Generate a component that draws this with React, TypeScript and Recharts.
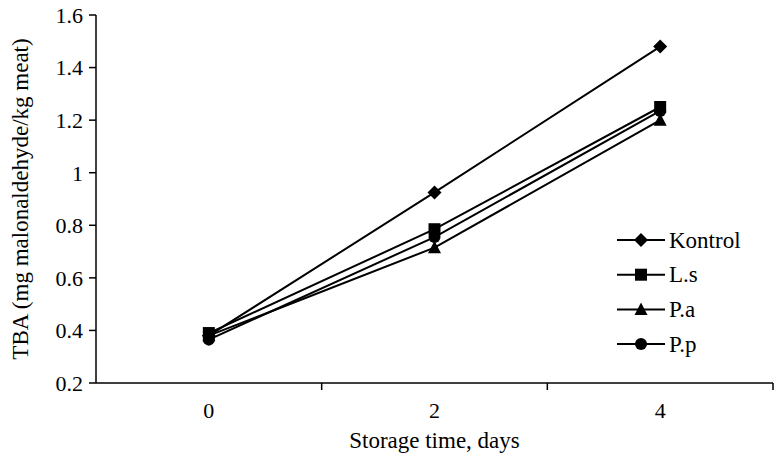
import React from "react";
import { LineChart, Line, XAxis, YAxis } from "recharts";

const days = [0, 2, 4];
const kontrol = [0.38, 0.925, 1.48];
const ls = [0.39, 0.785, 1.25];
const pa = [0.38, 0.715, 1.2];
const pp = [0.365, 0.755, 1.235];
const seriesNames = ["Kontrol", "L.s", "P.a", "P.p"];
const seriesKeys = ["kontrol", "ls", "pa", "pp"];
const seriesShapes = ["diamond", "square", "triangle", "circle"];
const yTicks = [0.2, 0.4, 0.6, 0.8, 1, 1.2, 1.4, 1.6];
const xLabelTicks = [0, 2, 4];
const xBoundaryTicks = [1, 3, 5];
const xDomain = [-1, 5];
const yTitle = "TBA (mg malonaldehyde/kg meat)";
const xTitle = "Storage time, days";

const data = days.map((d, i) => ({
  day: d,
  kontrol: kontrol[i],
  ls: ls[i],
  pa: pa[i],
  pp: pp[i],
}));

const FONT = "Liberation Serif";

function Marker({ shape, cx, cy }: { shape: string; cx: number; cy: number }) {
  if (shape === "diamond") {
    const h = 7;
    return <polygon points={`${cx},${cy - h} ${cx + h},${cy} ${cx},${cy + h} ${cx - h},${cy}`} fill="#000" />;
  }
  if (shape === "square") {
    const s = 12;
    return <rect x={cx - s / 2} y={cy - s / 2} width={s} height={s} fill="#000" />;
  }
  if (shape === "triangle") {
    return <polygon points={`${cx},${cy - 7} ${cx + 6.5},${cy + 5.5} ${cx - 6.5},${cy + 5.5}`} fill="#000" />;
  }
  return <circle cx={cx} cy={cy} r={6} fill="#000" />;
}

function makeDot(shape: string) {
  return (props: any) => {
    const { cx, cy, index } = props;
    if (cx == null || cy == null) return <g key={`e${index}`} />;
    return (
      <g key={`${shape}-${index}`}>
        <Marker shape={shape} cx={cx} cy={cy} />
      </g>
    );
  };
}

function XTick(props: any) {
  const { x, y, payload } = props;
  const v = payload.value;
  if (xBoundaryTicks.includes(v)) {
    return <line x1={x} x2={x} y1={y} y2={y + 7} stroke="#000" strokeWidth={1.5} />;
  }
  if (xLabelTicks.includes(v)) {
    return (
      <text x={x} y={y + 35} textAnchor="middle" style={{ fontFamily: FONT }} fontSize={22} fill="#000">
        {v}
      </text>
    );
  }
  return <g />;
}

function YLabel() {
  const cy = 199;
  const cx = 20;
  return (
    <text
      x={cx}
      y={cy}
      transform={`rotate(-90, ${cx}, ${cy})`}
      textAnchor="middle"
      dominantBaseline="central"
      style={{ fontFamily: FONT }}
      fontSize={23}
      fill="#000"
    >
      {yTitle}
    </text>
  );
}

function XLabel(props: any) {
  const vb = props.viewBox || {};
  const cx = (vb.x ?? 96) + (vb.width ?? 677) / 2;
  return (
    <text x={cx} y={448} textAnchor="middle" style={{ fontFamily: FONT }} fontSize={23} fill="#000">
      {xTitle}
    </text>
  );
}

function LegendBox() {
  const rowH = 34.7;
  return (
    <svg width={160} height={150} style={{ position: "absolute", left: 615, top: 222, display: "block" }}>
      {seriesNames.map((name, i) => {
        const cy = 18 + i * rowH;
        return (
          <g key={name}>
            <line x1={2} x2={50} y1={cy} y2={cy} stroke="#000" strokeWidth={2} />
            <Marker shape={seriesShapes[i]} cx={26} cy={cy} />
            <text x={54} y={cy} dominantBaseline="central" style={{ fontFamily: FONT }} fontSize={23} fill="#000">
              {name}
            </text>
          </g>
        );
      })}
    </svg>
  );
}

export default function App() {
  return (
    <div style={{ position: "absolute", left: 0, top: 0, width: 776, height: 458, background: "#fff", fontFamily: FONT }}>
      <LineChart width={776} height={458} data={data} margin={{ top: 15, right: 3, bottom: 0, left: 0 }}>
        <XAxis
          dataKey="day"
          type="number"
          domain={xDomain}
          ticks={[-1, ...xLabelTicks, ...xBoundaryTicks].sort((a, b) => a - b)}
          interval={0}
          tickSize={0}
          tickMargin={0}
          tickLine={false}
          tick={<XTick />}
          height={75}
          axisLine={{ stroke: "#000", strokeWidth: 1.5 }}
          label={<XLabel />}
        />
        <YAxis
          type="number"
          domain={[0.2, 1.6]}
          ticks={yTicks}
          interval={0}
          width={96}
          tickSize={7}
          tickMargin={6}
          axisLine={{ stroke: "#000", strokeWidth: 1.5 }}
          tickLine={{ stroke: "#000", strokeWidth: 1.5 }}
          tick={{ fill: "#000", fontSize: 22, style: { fontFamily: FONT } }}
          allowDataOverflow
          label={<YLabel />}
        />
        {seriesKeys.map((k, i) => (
          <Line
            key={k}
            dataKey={k}
            name={seriesNames[i]}
            stroke="#000"
            strokeWidth={2}
            dot={makeDot(seriesShapes[i])}
            activeDot={false}
            isAnimationActive={false}
          />
        ))}
      </LineChart>
      <LegendBox />
    </div>
  );
}
